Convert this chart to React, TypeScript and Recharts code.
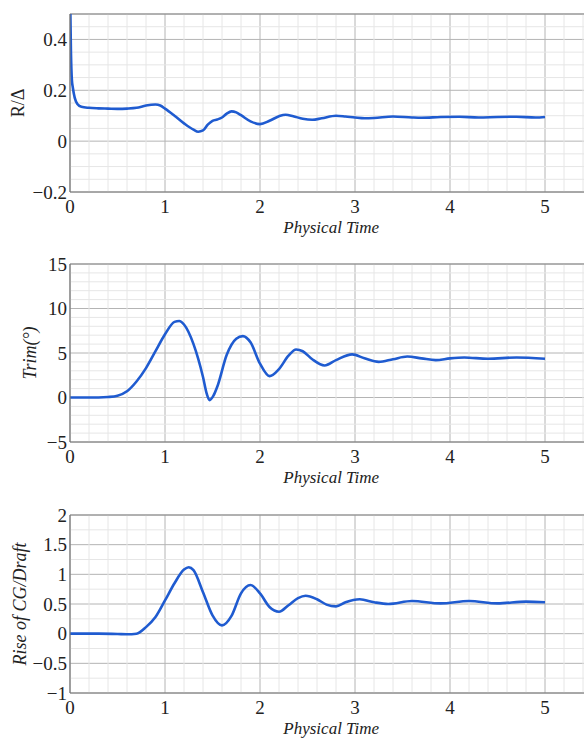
import { CartesianGrid, Line, LineChart, ReferenceLine, XAxis, YAxis } from "recharts";

// R/Δ
const rTime = [0, 0.01, 0.02, 0.03, 0.05, 0.08, 0.12, 0.2, 0.3, 0.4, 0.5, 0.6, 0.7, 0.8, 0.9, 0.95, 1.0, 1.1, 1.2, 1.3, 1.35, 1.4, 1.45, 1.5, 1.55, 1.6, 1.65, 1.7, 1.75, 1.8, 1.9, 2.0, 2.1, 2.2, 2.27, 2.35, 2.45, 2.55, 2.65, 2.8, 2.9, 3.0, 3.1, 3.2, 3.4, 3.6, 3.7, 3.9, 4.1, 4.3, 4.5, 4.7, 4.9, 5.0];
const rValues = [0.6, 0.35, 0.24, 0.21, 0.17, 0.145, 0.135, 0.131, 0.129, 0.128, 0.127, 0.128, 0.131, 0.14, 0.144, 0.14, 0.128, 0.1, 0.07, 0.045, 0.037, 0.042, 0.065, 0.08, 0.085, 0.093, 0.108, 0.117, 0.113, 0.102, 0.078, 0.067, 0.08, 0.098, 0.104, 0.098, 0.088, 0.084, 0.09, 0.1, 0.097, 0.093, 0.09, 0.091, 0.097, 0.093, 0.092, 0.095, 0.096, 0.093, 0.095, 0.096, 0.093, 0.095];

// Trim
const trimTime = [0, 0.1, 0.2, 0.3, 0.4, 0.5, 0.6, 0.7, 0.8, 0.9, 1.0, 1.1, 1.15, 1.2, 1.3, 1.4, 1.44, 1.47, 1.51, 1.55, 1.65, 1.75, 1.82, 1.9, 2.0, 2.1, 2.2, 2.3, 2.38, 2.45, 2.55, 2.68, 2.8, 2.97, 3.1, 3.25, 3.4, 3.55, 3.7, 3.85, 4.0, 4.15, 4.4, 4.7, 5.0];
const trimValues = [0, 0, 0, 0, 0.05, 0.2, 0.7, 1.8, 3.3, 5.2, 7.1, 8.5, 8.6, 8.2, 6.0, 2.3, 0.4, -0.3, 0.2, 1.2, 4.8, 6.6, 6.9, 6.2, 3.8, 2.4, 3.2, 4.7, 5.4, 5.2, 4.3, 3.6, 4.2, 4.85, 4.4, 4.0, 4.3, 4.6, 4.4, 4.2, 4.4, 4.5, 4.35, 4.5, 4.35];

// Rise of CG / Draft
const riseTime = [0, 0.3, 0.5, 0.6, 0.7, 0.8, 0.9, 1.0, 1.1, 1.2, 1.25, 1.3, 1.4, 1.5, 1.6, 1.7, 1.8, 1.9, 2.0, 2.1, 2.2, 2.3, 2.4, 2.48, 2.6, 2.7, 2.8, 2.9, 3.05, 3.2, 3.35, 3.6, 3.9, 4.2, 4.5, 4.8, 5.0];
const riseValues = [0, 0, -0.005, -0.01, 0, 0.11, 0.28, 0.56, 0.85, 1.08, 1.12, 1.07, 0.7, 0.31, 0.14, 0.3, 0.68, 0.82, 0.68, 0.45, 0.37, 0.48, 0.6, 0.64, 0.58, 0.49, 0.46, 0.53, 0.58, 0.53, 0.5, 0.55, 0.51, 0.55, 0.51, 0.54, 0.53];

const xTicks = [0, 1, 2, 3, 4, 5];
const xMinor = [0.2, 0.4, 0.6, 0.8, 1.2, 1.4, 1.6, 1.8, 2.2, 2.4, 2.6, 2.8, 3.2, 3.4, 3.6, 3.8, 4.2, 4.4, 4.6, 4.8, 5.2, 5.4];

const rTicks = [-0.2, 0, 0.2, 0.4];
const rMinor = [-0.15, -0.1, -0.05, 0.05, 0.1, 0.15, 0.25, 0.3, 0.35, 0.45];
const trimTicks = [-5, 0, 5, 10, 15];
const trimMinor = [-4, -3, -2, -1, 1, 2, 3, 4, 6, 7, 8, 9, 11, 12, 13, 14];
const riseTicks = [-1, -0.5, 0, 0.5, 1, 1.5, 2];
const riseMinor = [-0.75, -0.25, 0.25, 0.75, 1.25, 1.75];

const zip = (t: number[], v: number[]) => t.map((x, i) => ({ t: x, v: v[i] }));

const LINE = "#1f5bd0";
const FONT = "Liberation Serif, Times New Roman, DejaVu Serif, serif";
const fmt = (v: number) => (v < 0 ? "\u2212" + Math.abs(v) : String(v));
const xAllTicks = [...xTicks, ...xMinor].sort((a, b) => a - b);

type PanelProps = {
  top: number;
  data: { t: number; v: number }[];
  domain: [number, number];
  ticks: number[];
  minor: number[];
  label: string;
  italicLabel: boolean;
  labelX: number;
};

function Panel({ top, data, domain, ticks, minor, label, italicLabel, labelX }: PanelProps) {
  const tickStyle = { fontSize: 19, fill: "#222", fontFamily: FONT };
  const yAll = [...ticks, ...minor].sort((a, b) => a - b);
  return (
    <div style={{ position: "absolute", left: 0, top, fontFamily: FONT }}>
      <LineChart
        width={600}
        height={240}
        data={data}
        margin={{ top: 14, right: 7.5, bottom: 8, left: 0 }}
        style={{ fontFamily: FONT }}
      >
        <CartesianGrid stroke="#b4b4b4" strokeWidth={1} />
        {xMinor.map((x) => (
          <ReferenceLine key={"vx" + x} x={x} stroke="#e6e6e6" strokeWidth={1} />
        ))}
        {minor.map((y) => (
          <ReferenceLine key={"hy" + y} y={y} stroke="#e6e6e6" strokeWidth={1} />
        ))}
        <ReferenceLine y={domain[1]} stroke="#888" strokeWidth={1.2} />
        <XAxis
          dataKey="t"
          type="number"
          domain={[0, 5.5]}
          ticks={xTicks}
          allowDataOverflow
          tickSize={0}
          tickMargin={8}
          tick={tickStyle}
          axisLine={{ stroke: "#777", strokeWidth: 1.2 }}
          height={40}
          label={{
            value: "Physical Time",
            position: "insideBottom",
            offset: -1,
            style: { fontSize: 17, fontStyle: "italic", fill: "#222", fontFamily: FONT },
          }}
        />
        {/* inward tick marks, bottom and top */}
        <XAxis
          xAxisId="tb"
          type="number"
          domain={[0, 5.5]}
          ticks={xAllTicks}
          allowDataOverflow
          mirror
          height={0}
          tick={false}
          tickSize={5}
          tickLine={{ stroke: "#666" }}
          axisLine={false}
        />
        <XAxis
          xAxisId="tt"
          orientation="top"
          type="number"
          domain={[0, 5.5]}
          ticks={xAllTicks}
          allowDataOverflow
          mirror
          height={0}
          tick={false}
          tickSize={5}
          tickLine={{ stroke: "#666" }}
          axisLine={false}
        />
        <YAxis
          type="number"
          domain={domain}
          ticks={ticks}
          allowDataOverflow
          tickFormatter={fmt}
          tickSize={0}
          tickMargin={3}
          tick={tickStyle}
          axisLine={{ stroke: "#777", strokeWidth: 1.2 }}
          width={70}
          label={{
            value: label,
            angle: -90,
            position: "insideLeft",
            offset: labelX,
            style: {
              textAnchor: "middle",
              fontSize: 18,
              fontStyle: italicLabel ? "italic" : "normal",
              fill: "#222",
              fontFamily: FONT,
            },
          }}
        />
        <YAxis
          yAxisId="tl"
          type="number"
          domain={domain}
          ticks={yAll}
          allowDataOverflow
          mirror
          width={0}
          tick={false}
          tickSize={5}
          tickLine={{ stroke: "#666" }}
          axisLine={false}
        />
        <Line
          type="monotone"
          dataKey="v"
          stroke={LINE}
          strokeWidth={2.6}
          dot={false}
          isAnimationActive={false}
        />
      </LineChart>
    </div>
  );
}

export default function App() {
  return (
    <div
      style={{
        position: "absolute",
        left: 0,
        top: 0,
        width: 584,
        height: 740,
        overflow: "hidden",
        background: "#fff",
        fontFamily: FONT,
      }}
    >
      <Panel top={0} data={zip(rTime, rValues)} domain={[-0.2, 0.5]} ticks={rTicks} minor={rMinor} label="R/Δ" italicLabel={false} labelX={18} />
      <Panel top={250} data={zip(trimTime, trimValues)} domain={[-5, 15]} ticks={trimTicks} minor={trimMinor} label="Trim(°)" italicLabel labelX={30} />
      <Panel top={501} data={zip(riseTime, riseValues)} domain={[-1, 2]} ticks={riseTicks} minor={riseMinor} label="Rise of CG/Draft" italicLabel labelX={20} />
    </div>
  );
}
